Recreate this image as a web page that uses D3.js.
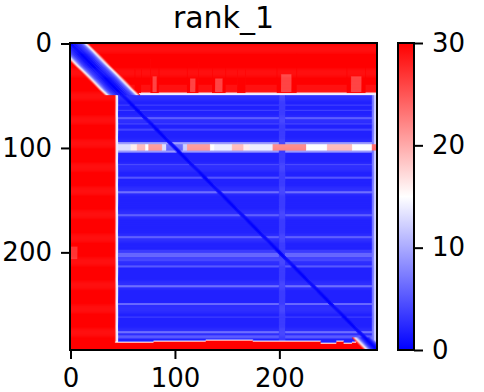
<!DOCTYPE html>
<html>
<head>
<meta charset="utf-8">
<title>rank_1</title>
<script src="https://d3js.org/d3.v7.min.js"></script>
<style>
  body { margin: 0; background: #fff; }
  svg { display: block; font-family: "DejaVu Sans", sans-serif; }
</style>
</head>
<body>
<svg id="chart" width="484" height="392"></svg>
<script>
// ---- data (matrix indices: row, column) ----
const N = 294;
const chartTitle = "rank_1";
const axisTicks = [0, 100, 200];
const colorTicks = [0, 10, 20, 30];

// [rowStart, rowEnd, colStart, colEnd, value], painted in order
const basePatches = [
  [0, 294, 0, 294, 32],
  [195, 207, 0, 7, 27],
  [40, 48, 46, 294, 29],
  [47, 289, 43, 294, 23],
  [48, 288, 44, 294, 14],
  [50, 287, 46, 289, 2],
  [50, 287, 289, 291, 7],
  [50, 287, 291, 294, 12]
];

// lighter streaks in the red block above the blue area
const topStreaks = [
  [25, 48, 62, 68, 30],
  [15, 48, 77, 85, 30], [32, 47, 79, 83, 26],
  [18, 48, 112, 123, 30], [34, 47, 115, 120, 26],
  [15, 48, 136, 149, 30], [34, 47, 139, 146, 26],
  [25, 48, 160, 168, 30],
  [10, 48, 198, 217, 30], [30, 47, 202, 212, 26],
  [12, 48, 265, 283, 30], [32, 47, 269, 279, 26]
];

// faint horizontal stripes across the blue block: [rowStart, rowEnd, value]
const blockStripes = [
  [59, 60, 4], [64, 65, 4], [71, 73, 5], [77, 78, 4], [82, 84, 4],
  [95, 105, 9],
  [116, 117, 4], [128, 130, 5], [142, 144, 6], [164, 166, 5],
  [185, 187, 5], [198, 209, 3.5], [201, 205, 6], [213, 215, 5],
  [232, 234, 6], [249, 251, 6], [262, 263, 4], [276, 278, 6], [280, 283, 5]
];

// faint vertical band in the blue block: [colStart, colEnd, value]
const blockColumns = [[200, 206, 3.5]];

// the bright line around row 100: [colStart, colEnd, value]
const row100Segments = [
  [46, 58, 13], [58, 64, 16], [64, 72, 19], [72, 75, 15], [75, 88, 21],
  [88, 92, 13], [92, 108, 6], [108, 112, 12], [112, 134, 21], [134, 138, 15],
  [138, 155, 14], [155, 166, 19], [166, 172, 16], [172, 194, 14], [194, 226, 22],
  [226, 246, 15], [246, 270, 19], [270, 289, 15], [289, 294, 24]
];

// red strip at the bottom: [colStart, colEnd, first red row]
const bottomEdge = [
  [43, 80, 287], [80, 130, 286], [130, 175, 285], [175, 240, 286],
  [240, 255, 288], [255, 262, 286], [262, 270, 288], [270, 294, 287]
];

// values next to the diagonal, by distance left (col < row) and right
const diagonalBands = [
  { rows: [0, 50],
    left: [0, 0, 1, 1, 1, 2, 2, 3, 3, 4, 5, 6, 8, 11, 14, 18, 23, 28],
    right: [0, 0, 1, 1, 1, 2, 2, 3, 3, 4, 5, 6, 8, 11, 14, 18, 23, 28] },
  { rows: [50, 282], left: [0, 0.5, 1], right: [0, 0.5, 1] },
  { rows: [282, 294],
    left: [0, 0.5, 1, 2, 3, 4, 6, 8, 11, 14, 18, 23, 28],
    right: [0, 0.5, 1, 2, 3, 5, 7] }
];

// ---- build the matrix ----
const matrix = d3.range(N).map(() => new Array(N).fill(0));
function paint(r0, r1, c0, c1, v) {
  for (let r = Math.max(0, r0); r < Math.min(N, r1); r++)
    for (let c = Math.max(0, c0); c < Math.min(N, c1); c++) matrix[r][c] = v;
}
basePatches.forEach(p => paint(...p));
topStreaks.forEach(p => paint(...p));
blockStripes.forEach(([r0, r1, v]) => paint(r0, r1, 46, 289, v));
blockColumns.forEach(([c0, c1, v]) => paint(50, 287, c0, c1, v));
row100Segments.forEach(([c0, c1, v]) => paint(97, 103, c0, c1, v));
bottomEdge.forEach(([c0, c1, top]) => {
  paint(top - 1, top, c0, c1, 15);
  paint(top, N, c0, c1, 30);
});
diagonalBands.forEach(b => {
  for (let r = b.rows[0]; r < b.rows[1]; r++) {
    b.left.forEach((v, k) => { if (r - k >= 0) matrix[r][r - k] = v; });
    b.right.forEach((v, k) => { if (r + k < N) matrix[r][r + k] = v; });
  }
});

// ---- drawing ----
const margin = { left: 70, top: 43 };
const size = 307;
const svg = d3.select("#chart");

const x = d3.scaleLinear().domain([-0.5, N - 0.5]).range([margin.left, margin.left + size]);
const y = d3.scaleLinear().domain([-0.5, N - 0.5]).range([margin.top, margin.top + size]);
const color = d3.scaleLinear().domain([0, 15, 30]).range(["#0000ff", "#ffffff", "#ff0000"]).clamp(true);

// runs of equal cells per row
const runs = [];
matrix.forEach((row, r) => {
  let start = 0;
  for (let c = 1; c <= N; c++) {
    if (c === N || row[c] !== row[start]) {
      runs.push({ r: r, c0: start, c1: c - 1, v: row[start] });
      start = c;
    }
  }
});

svg.append("clipPath").attr("id", "plotclip")
  .append("rect").attr("x", margin.left).attr("y", margin.top).attr("width", size).attr("height", size);

svg.append("g").attr("clip-path", "url(#plotclip)")
  .selectAll("rect").data(runs).join("rect")
  .attr("x", d => x(d.c0 - 0.5))
  .attr("y", d => y(d.r - 0.5))
  .attr("width", d => x(d.c1 + 0.5) - x(d.c0 - 0.5) + 0.5)
  .attr("height", d => y(d.r + 0.5) - y(d.r - 0.5) + 0.5)
  .attr("fill", d => color(d.v));

svg.append("rect")
  .attr("x", margin.left).attr("y", margin.top).attr("width", size).attr("height", size)
  .attr("fill", "none").attr("stroke", "#000").attr("stroke-width", 2);

function styleAxis(g) {
  g.select(".domain").remove();
  g.selectAll(".tick line").attr("stroke", "#000").attr("stroke-width", 2);
  g.selectAll(".tick text").attr("fill", "#000").attr("font-size", 26).attr("font-family", "DejaVu Sans");
}

svg.append("g")
  .attr("transform", `translate(0,${margin.top + size})`)
  .call(d3.axisBottom(x).tickValues(axisTicks).tickSize(9).tickPadding(10))
  .call(styleAxis);

svg.append("g")
  .attr("transform", `translate(${margin.left},0)`)
  .call(d3.axisLeft(y).tickValues(axisTicks).tickSize(9).tickPadding(9))
  .call(styleAxis);

svg.append("text")
  .attr("x", margin.left + size / 2).attr("y", 28)
  .attr("text-anchor", "middle").attr("font-size", 30)
  .text(chartTitle);

// colour bar
const cb = { x: 398, w: 16 };
const cy = d3.scaleLinear().domain([0, 30]).range([margin.top + size, margin.top]);
const grad = svg.append("defs").append("linearGradient")
  .attr("id", "cbgrad").attr("x1", 0).attr("y1", 1).attr("x2", 0).attr("y2", 0);
grad.selectAll("stop").data([0, 15, 30]).join("stop")
  .attr("offset", d => d / 30)
  .attr("stop-color", d => color(d));

svg.append("rect")
  .attr("x", cb.x).attr("y", cy(30)).attr("width", cb.w).attr("height", cy(0) - cy(30))
  .attr("fill", "url(#cbgrad)").attr("stroke", "#000").attr("stroke-width", 2);

svg.append("g")
  .attr("transform", `translate(${cb.x + cb.w},0)`)
  .call(d3.axisRight(cy).tickValues(colorTicks).tickSize(9).tickPadding(9))
  .call(styleAxis);
</script>
</body>
</html>
